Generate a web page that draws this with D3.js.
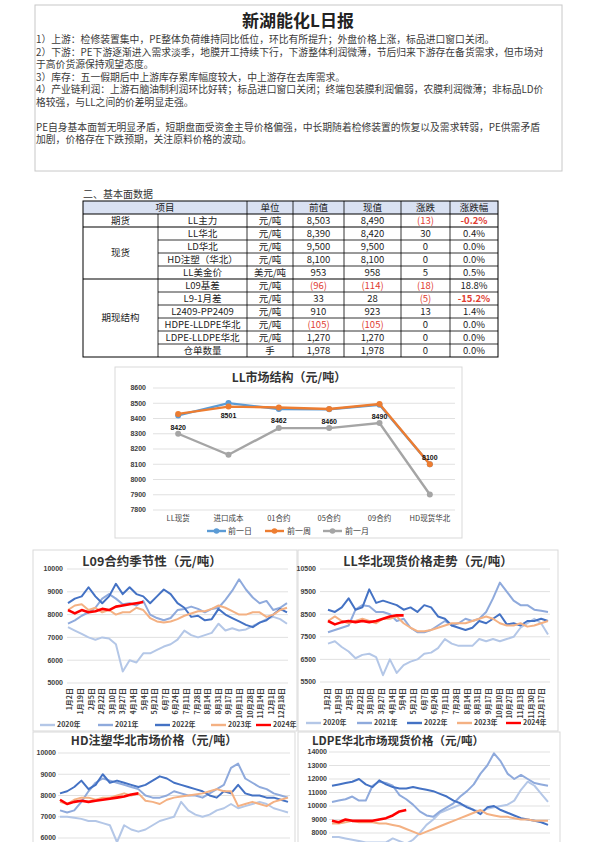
<!DOCTYPE html>
<html><head><meta charset="utf-8">
<script src="https://cdn.jsdelivr.net/npm/d3@7"></script>
<style>body{margin:0;background:#fff} svg{display:block}</style>
</head><body><svg id="c" width="595" height="842"></svg>
<script>
// ---------------- DATA ----------------
const reportTitle = "新湖能化L日报";
const summaryLines = [
  "1）上游：检修装置集中，PE整体负荷维持同比低位，环比有所提升；外盘价格上涨，标品进口窗口关闭。",
  "2）下游：PE下游逐渐进入需求淡季，地膜开工持续下行，下游整体利润微薄，节后归来下游存在备货需求，但市场对",
  "于高价货源保持观望态度。",
  "3）库存：五一假期后中上游库存累库幅度较大，中上游存在去库需求。",
  "4）产业链利润：上游石脑油制利润环比好转；标品进口窗口关闭；终端包装膜利润偏弱，农膜利润微薄；非标品LD价",
  "格较强，与LL之间的价差明显走强。",
  "",
  "PE自身基本面暂无明显矛盾，短期盘面受资金主导价格偏强，中长期随着检修装置的恢复以及需求转弱，PE供需矛盾",
  "加剧，价格存在下跌预期，关注原料价格的波动。"
];
const sectionTitle = "二、基本面数据";
const tableHeaders = ["项目","单位","前值","现值","涨跌","涨跌幅"];
const tableGroups = ["期货","现货","期现结构"];
const tableGroupSizes = [1,4,6];
const tableItems = ["LL主力","LL华北","LD华北","HD注塑（华北）","LL美金价","L09基差","L9-1月差","L2409-PP2409","HDPE-LLDPE华北","LDPE-LLDPE华北","仓单数量"];
const tableUnits = ["元/吨","元/吨","元/吨","元/吨","美元/吨","元/吨","元/吨","元/吨","元/吨","元/吨","手"];
const tablePrev = ["8,503","8,390","9,500","8,100","953","(96)","33","910","(105)","1,270","1,978"];
const tableCurr = ["8,490","8,420","9,500","8,100","958","(114)","28","923","(105)","1,270","1,978"];
const tableChange = ["(13)","30","0","0","5","(18)","(5)","13","0","0","0"];
const tableChangePct = ["-0.2%","0.4%","0.0%","0.0%","0.5%","18.8%","-15.2%","1.4%","0.0%","0.0%","0.0%"];

const structTitle = "LL市场结构（元/吨）";
const structCategories = ["LL现货","进口成本","01合约","05合约","09合约","HD现货华北"];
const structSeriesNames = ["前一日","前一周","前一月"];
const structPrevDay = [8420,8501,8462,8460,8490,8100];
const structPrevWeek = [8430,8478,8472,8462,8495,8100];
const structPrevMonth = [8300,8162,8337,8337,8370,7902];
const structTicks = [7800,7900,8000,8100,8200,8300,8400,8500,8600];

const seasonYears = ["2020年","2021年","2022年","2023年","2024年"];
const ticksA = ["1月2日","1月19日","2月5日","2月22日","3月10日","3月27日","4月14日","5月4日","5月21日","6月7日","6月24日","7月11日","7月28日","8月14日","8月31日","9月17日","10月11日","10月28日","11月14日","12月1日","12月18日"];
const ticksB = ["1月2日","1月19日","2月5日","2月22日","3月10日","3月27日","4月14日","5月4日","5月21日","6月7日","6月24日","7月11日","7月28日","8月14日","8月31日","9月17日","10月10日","10月27日","11月13日","11月30日","12月17日"];

// L09 contract seasonality
const l09_2020 = [7450,7300,7150,7000,6900,7000,6950,6700,5500,6000,5900,6300,6300,6450,6600,6700,6900,7300,7100,7000,7100,7200,7600,7300,7400,7300,7350,7500,7650,7800,7900,7800,7600];
const l09_2021 = [7600,7750,7950,8100,8300,8700,8900,8700,8450,8500,8400,8600,8000,7850,7750,7850,8200,8250,8350,8250,8100,8250,8300,8650,9050,9550,9100,8750,8500,8600,8200,8300,8500];
const l09_2022 = [8500,8700,8800,9200,8800,8500,8800,9350,8900,9200,8900,8800,8500,8800,9100,8900,8500,8300,7900,7950,7750,7800,8250,8000,7850,7700,7550,7450,7650,7750,8000,8250,8100];
const l09_2023 = [8200,8400,8450,8200,8300,8100,8200,8000,8100,8100,8300,8200,7850,7700,7650,7700,7800,7950,8050,8150,8150,8250,8400,8300,8150,8000,8000,8100,8100,7900,8000,8200,8300];
const l09_2024 = [8200,8050,8200,8100,8150,8250,8200,8350,8400,8450,8500,8550];

// LL North China spot
const llnc_2020 = [7200,7300,7050,6850,6550,6700,6750,6600,5800,6500,5900,6250,6400,6500,6750,6800,7000,7400,7200,7100,7100,7100,7400,7300,7400,7300,7400,7500,7900,8100,8300,8100,7600];
const llnc_2021 = [7700,7800,7900,8000,8700,8900,8850,8600,8600,8500,8200,8300,7900,7700,7700,7800,8000,8200,8000,8100,8300,8200,8300,8600,9200,9900,9500,9100,8900,8900,8700,8650,8600];
const llnc_2022 = [8700,8600,8800,9200,8700,8800,9600,9000,9100,9000,8900,8700,8800,8600,8900,8800,8400,8300,8000,7900,7800,7900,8200,8100,8300,8500,8050,8100,8000,8200,8200,8300,8200];
const llnc_2023 = [8200,8400,8200,8100,8200,8300,8200,8100,8300,8300,8400,8100,7900,7750,7750,7800,7900,8000,8100,8100,8100,8200,8300,8400,8300,8100,8000,8000,8100,7950,8000,8100,8200];
const llnc_2024 = [8200,8050,8150,8200,8150,8200,8150,8200,8300,8400,8450,8450];

// HD injection North China
const hd_2020 = [7000,7000,6950,6900,6800,6800,6700,6600,5800,6600,6400,6300,6400,6600,6800,6900,7000,7700,7300,7100,7000,7100,7300,7400,7600,7400,7500,7600,7700,7600,7400,7300,7200];
const hd_2021 = [7300,7200,7300,7700,8200,8600,8800,8700,8600,8500,8400,8300,8000,7900,7900,8000,8200,8100,8000,8000,7900,8100,8300,8500,9300,9500,8800,8600,8400,8300,8100,8000,7900];
const hd_2022 = [8100,8200,8400,8700,8300,8500,9000,8600,8700,8600,8500,8400,8500,8700,8900,8800,8600,8500,8400,8300,8200,8000,7900,8200,8100,8500,8100,8000,8000,7900,7900,7800,7700];
const hd_2023 = [7700,7600,7800,7900,7900,7800,7900,7900,8000,8100,8000,8100,7750,7700,7600,7800,7900,7950,8000,8050,8100,8200,8300,8200,8200,7500,7600,7700,7600,7500,7700,7800,7900];
const hd_2024 = [7800,7600,7700,7750,7700,7750,7800,7850,7900,7950,8050,8100];

// LDPE North China spot
const ld_2020 = [7700,7700,7600,7500,7400,7300,7300,7300,7300,7600,7400,7200,7500,8000,8600,9000,9500,9700,9900,10100,10000,9700,9600,9800,9900,10000,10100,10400,11200,11800,11500,10900,10300];
const ld_2021 = [10300,10400,10500,10700,10400,10400,11500,11800,11700,11500,10800,10500,10100,9600,9300,9200,9600,9900,10200,10700,11100,11600,12400,13000,13900,13300,12400,12000,12300,12000,11700,11600,11500];
const ld_2022 = [11500,11600,11700,11800,12000,11600,11400,11900,11600,11400,11300,11300,11400,11300,11200,11100,10900,10700,10400,10200,9900,9700,9400,9900,10000,9700,9500,9300,9100,9000,8900,8800,8600];
const ld_2023 = [8700,8700,8800,8900,8800,8800,8800,8700,8700,8600,8500,8300,8100,7900,8100,8300,8500,8700,8900,9100,9300,9500,9700,9400,9300,9200,9200,9100,9000,9000,8900,8900,8900];
const ld_2024 = [8900,8800,9000,8900,8900,8900,8900,9000,9100,9300,9600,9700];

// ---------------- STYLE ----------------
const CJK = "'Noto Sans CJK SC','Noto Sans',sans-serif";
const yearColors = ["#B4C7E7","#8FAADC","#4472C4","#F4B183","#FF0000"];
const structColors = ["#5B9BD5","#ED7D31","#A5A5A5"];
const RED = "#E03C31";

const svg = d3.select("#c");

// ---------------- TOP TEXT BOX ----------------
svg.append("rect").attr("x",35).attr("y",5).attr("width",527).attr("height",166)
  .attr("fill","none").attr("stroke","#C8C8C8").attr("stroke-width",1);
svg.append("text").attr("x",298).attr("y",27).attr("text-anchor","middle")
  .attr("font-family",CJK).attr("font-size",17).attr("font-weight","bold").attr("fill","#222")
  .text(reportTitle);
const lineY = [43,55.5,68,80.5,93,105.5,118,130.5,143];
summaryLines.forEach((t,i)=>{
  svg.append("text").attr("x",36).attr("y",lineY[i]).attr("font-family",CJK)
    .attr("font-size",9.8).attr("fill","#3a3a3a").text(t);
});

// ---------------- TABLE ----------------
svg.append("text").attr("x",83).attr("y",198).attr("font-family",CJK).attr("font-size",10)
  .attr("fill","#333").text(sectionTitle);
const cols = [83,158,247,293,344,401,450,498];
const tTop = 201, rh = 13;
const nRows = tableItems.length;
const tBottom = tTop + rh*(nRows+1);
svg.append("rect").attr("x",cols[0]).attr("y",tTop).attr("width",cols[7]-cols[0]).attr("height",rh)
  .attr("fill","#D9E1F2");
const tg = svg.append("g").attr("font-family",CJK).attr("font-size",9.5).attr("fill","#222");
const headCenters = [(cols[0]+cols[2])/2,(cols[2]+cols[3])/2,(cols[3]+cols[4])/2,(cols[4]+cols[5])/2,(cols[5]+cols[6])/2,(cols[6]+cols[7])/2];
tableHeaders.forEach((h,i)=>{
  tg.append("text").attr("x",headCenters[i]).attr("y",tTop+rh/2).attr("dy","0.36em")
    .attr("text-anchor","middle").text(h);
});
const groupStarts = [];
let acc = 0;
tableGroupSizes.forEach(s=>{groupStarts.push(acc); acc+=s;});
tableGroups.forEach((gname,i)=>{
  const y0 = tTop + rh*(1+groupStarts[i]);
  const y1 = y0 + rh*tableGroupSizes[i];
  tg.append("text").attr("x",(cols[0]+cols[1])/2).attr("y",(y0+y1)/2).attr("dy","0.36em")
    .attr("text-anchor","middle").text(gname);
});
const isNeg = s => s.startsWith("(") || s.startsWith("-");
tableItems.forEach((item,r)=>{
  const cy = tTop + rh*(r+1) + rh/2;
  const vals = [item, tableUnits[r], tablePrev[r], tableCurr[r], tableChange[r], tableChangePct[r]];
  vals.forEach((v,k)=>{
    const cx = (cols[k+1]+cols[k+2])/2;
    tg.append("text").attr("x",cx).attr("y",cy).attr("dy","0.36em").attr("text-anchor","middle")
      .attr("fill", k>=2 && isNeg(v) ? RED : "#222")
      .attr("font-weight", (k===5 && isNeg(v)) ? "bold" : "normal")
      .text(v);
  });
});
const lg = svg.append("g").attr("stroke","#000").attr("stroke-width",0.8);
lg.append("rect").attr("x",cols[0]).attr("y",tTop).attr("width",cols[7]-cols[0]).attr("height",tBottom-tTop)
  .attr("fill","none").attr("stroke-width",1);
const groupBoundaryRows = new Set(groupStarts.concat([0]));
for(let r=0;r<nRows;r++){
  const y = tTop + rh*(r+1);
  const full = groupBoundaryRows.has(r);
  lg.append("line").attr("x1", full?cols[0]:cols[1]).attr("x2",cols[7]).attr("y1",y).attr("y2",y)
    .attr("stroke-width", full?1.2:0.8);
}
lg.append("line").attr("x1",cols[1]).attr("x2",cols[1]).attr("y1",tTop+rh).attr("y2",tBottom);
for(let k=2;k<7;k++){
  lg.append("line").attr("x1",cols[k]).attr("x2",cols[k]).attr("y1",tTop).attr("y2",tBottom);
}

// ---------------- STRUCTURE CHART ----------------
(function(){
  const g = svg.append("g");
  g.append("rect").attr("x",115).attr("y",367).attr("width",347).attr("height",171)
    .attr("fill","#fff").attr("stroke","#D9D9D9");
  g.append("text").attr("x",289).attr("y",382).attr("text-anchor","middle")
    .attr("font-family",CJK).attr("font-size",12).attr("font-weight","bold").attr("fill","#333")
    .text(structTitle);
  const x = d3.scalePoint().domain(structCategories).range([153,455]).padding(0.5);
  const y = d3.scaleLinear().domain([7800,8600]).range([510,388]);
  structTicks.forEach(t=>{
    g.append("line").attr("x1",153).attr("x2",455).attr("y1",y(t)).attr("y2",y(t))
      .attr("stroke","#D9D9D9").attr("stroke-width",0.8);
    g.append("text").attr("x",146).attr("y",y(t)).attr("dy","0.35em").attr("text-anchor","end")
      .attr("font-family","'Liberation Sans',sans-serif").attr("font-size",7).attr("font-weight","bold")
      .attr("fill","#404040").text(t);
  });
  structCategories.forEach(c=>{
    g.append("text").attr("x",x(c)).attr("y",518).attr("dy","0.35em").attr("text-anchor","middle")
      .attr("font-family",CJK).attr("font-size",7.5).attr("fill","#404040").text(c);
  });
  const series = [structPrevDay, structPrevWeek, structPrevMonth];
  const line = d3.line().x((d,i)=>x(structCategories[i])).y(d=>y(d));
  [0,1,2].forEach(s=>{
    g.append("path").attr("d",line(series[s])).attr("fill","none")
      .attr("stroke",structColors[s]).attr("stroke-width",2.4);
    g.selectAll(null).data(series[s]).enter().append("circle")
      .attr("cx",(d,i)=>x(structCategories[i])).attr("cy",d=>y(d)).attr("r",3)
      .attr("fill",structColors[s]);
  });
  structPrevDay.forEach((v,i)=>{
    const above = v < 8200;
    g.append("text").attr("x",x(structCategories[i])).attr("y",y(v) + (above? -7 : 12)).attr("dy","0.35em")
      .attr("text-anchor","middle").attr("font-family","'Liberation Sans',sans-serif")
      .attr("font-size",7).attr("font-weight","bold").attr("fill","#111").text(v);
  });
  const lx = [207,265,323], tx = [228,287,345];
  structSeriesNames.forEach((n,i)=>{
    g.append("line").attr("x1",lx[i]).attr("x2",lx[i]+19).attr("y1",531).attr("y2",531)
      .attr("stroke",structColors[i]).attr("stroke-width",2.4);
    g.append("circle").attr("cx",lx[i]+9.5).attr("cy",531).attr("r",2.8).attr("fill",structColors[i]);
    g.append("text").attr("x",tx[i]).attr("y",531).attr("dy","0.35em").attr("font-family",CJK)
      .attr("font-size",8).attr("fill","#404040").text(n);
  });
})();

// ---------------- SEASONAL CHARTS ----------------
function drawSeasonal(c){
  const g = svg.append("g");
  g.append("rect").attr("x",c.box[0]).attr("y",c.box[1]).attr("width",c.box[2]).attr("height",c.box[3])
    .attr("fill","#fff").attr("stroke","#D9D9D9");
  const y = d3.scaleLinear().domain(c.yDomain).range(c.yRange);
  const n = c.series[0].length;
  const x = d3.scaleLinear().domain([0,n-1]).range(c.sx);
  c.yTicks.forEach(t=>{
    g.append("line").attr("x1",c.gx[0]).attr("x2",c.gx[1]).attr("y1",y(t)).attr("y2",y(t))
      .attr("stroke","#D9D9D9").attr("stroke-width",0.8);
    g.append("text").attr("x",c.labelX).attr("y",y(t)).attr("dy","0.35em").attr("text-anchor","end")
      .attr("font-family","'Liberation Sans',sans-serif").attr("font-size",7).attr("font-weight","bold")
      .attr("fill","#404040").text(t);
  });
  g.append("text").attr("x",c.titleX).attr("y",c.titleY).attr("text-anchor","middle")
    .attr("font-family",CJK).attr("font-size",c.titleSize).attr("font-weight","bold").attr("fill","#333")
    .text(c.title);
  const line = d3.line().x((d,i)=>x(i)).y(d=>y(d));
  c.series.forEach((s,k)=>{
    g.append("path").attr("d",line(s)).attr("fill","none").attr("stroke",yearColors[k])
      .attr("stroke-width",k===4?2.6:2).attr("stroke-linejoin","round");
  });
  if(c.tickLabels){
    const tx = d3.scalePoint().domain(c.tickLabels).range(c.tickRange);
    c.tickLabels.forEach(t=>{
      g.append("text").attr("transform",`translate(${tx(t)},${c.tickY}) rotate(-90)`)
        .attr("dy","0.35em").attr("text-anchor","end").attr("font-family",CJK)
        .attr("font-size",7).attr("font-weight","bold").attr("fill","#404040").text(t);
    });
  }
  if(c.legendY){
    seasonYears.forEach((yr,k)=>{
      g.append("line").attr("x1",c.legendLine[k]).attr("x2",c.legendLine[k]+15)
        .attr("y1",c.legendY).attr("y2",c.legendY).attr("stroke",yearColors[k]).attr("stroke-width",2.4);
      g.append("text").attr("x",c.legendLine[k]+17).attr("y",c.legendY).attr("dy","0.35em")
        .attr("font-family",CJK).attr("font-size",7).attr("font-weight","bold").attr("fill","#404040").text(yr);
    });
  }
}

drawSeasonal({
  box:[33,550,264,181], title:"L09合约季节性（元/吨）", titleX:152, titleY:566, titleSize:12.5,
  yDomain:[5000,10000], yRange:[683,569], yTicks:[5000,6000,7000,8000,9000,10000],
  labelX:63, gx:[67,288], sx:[68,287],
  series:[l09_2020,l09_2021,l09_2022,l09_2023,l09_2024],
  tickLabels:ticksA, tickRange:[70,282], tickY:688,
  legendY:725, legendLine:[40,98,155,211,256]
});
drawSeasonal({
  box:[298,550,260,181], title:"LL华北现货价格走势（元/吨）", titleX:428, titleY:566, titleSize:12.5,
  yDomain:[5500,10500], yRange:[682,569], yTicks:[5500,6500,7500,8500,9500,10500],
  labelX:316, gx:[320,550], sx:[328,548],
  series:[llnc_2020,llnc_2021,llnc_2022,llnc_2023,llnc_2024],
  tickLabels:ticksB, tickRange:[328,542], tickY:688,
  legendY:723, legendLine:[306,357,407,457,506]
});
drawSeasonal({
  box:[33,732,262,120], title:"HD注塑华北市场价格（元/吨）", titleX:154, titleY:745, titleSize:12,
  yDomain:[5000,10000], yRange:[859.25,753], yTicks:[6000,7000,8000,9000,10000],
  labelX:56, gx:[58,290], sx:[60,288],
  series:[hd_2020,hd_2021,hd_2022,hd_2023,hd_2024]
});
drawSeasonal({
  box:[298,732,262,120], title:"LDPE华北市场现货价格（元/吨）", titleX:398, titleY:745, titleSize:11.5,
  yDomain:[7000,14000], yRange:[846.5,752], yTicks:[8000,9000,10000,11000,12000,13000,14000],
  labelX:327, gx:[329,550], sx:[332,548],
  series:[ld_2020,ld_2021,ld_2022,ld_2023,ld_2024]
});
</script></body></html>
